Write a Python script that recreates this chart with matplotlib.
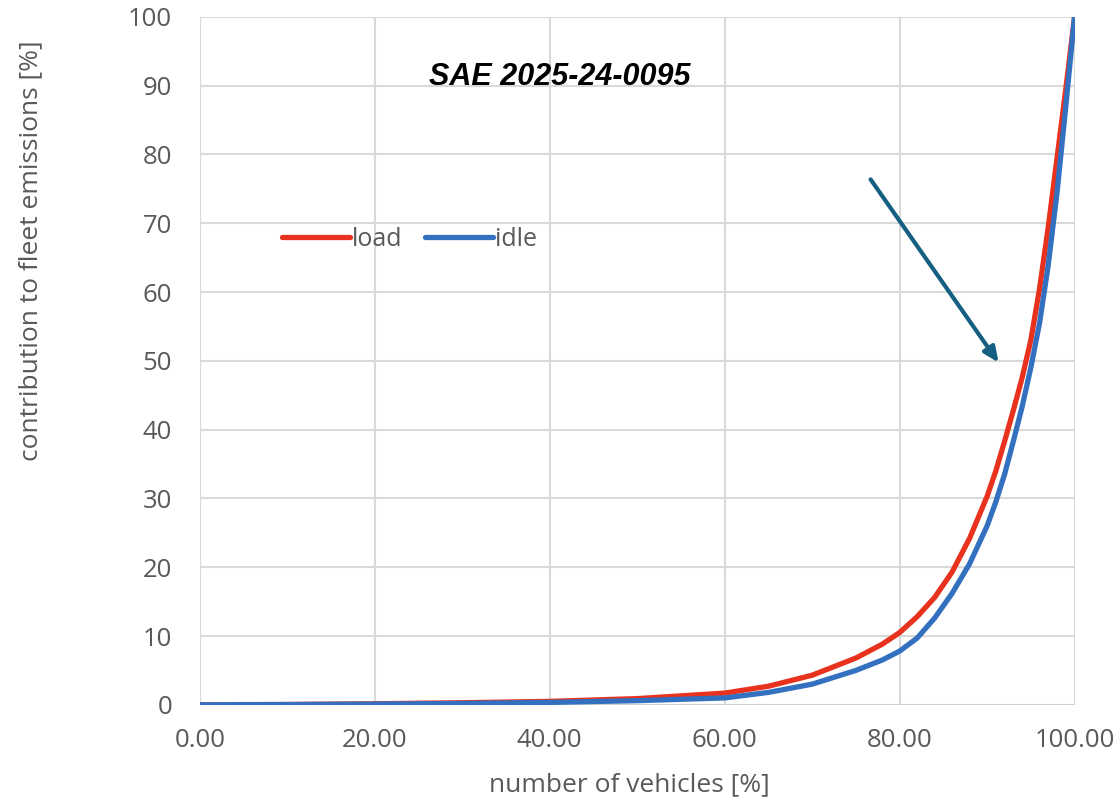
import numpy as np
import matplotlib.pyplot as plt

# share of vehicles [%] and their cumulative contribution to fleet emissions [%]
vehicles = [0, 10, 20, 30, 40, 50, 60, 65, 70, 75, 78, 80, 82, 84, 86, 88, 90, 91, 92, 93, 94, 95, 96, 97, 98, 99, 100]
load = [0, 0.05, 0.15, 0.3, 0.5, 0.9, 1.7, 2.7, 4.3, 6.8, 8.8, 10.5, 12.8, 15.6, 19.3, 24.2, 30.3, 34, 38.3, 42.8, 47.5, 53, 60.5, 69.5, 79.5, 89.5, 100]
idle = [0, 0.03, 0.1, 0.2, 0.35, 0.6, 1.0, 1.8, 3.0, 5.0, 6.5, 7.8, 9.7, 12.6, 16.2, 20.5, 26, 29.5, 33.5, 38.3, 43.3, 49, 55.5, 64, 74.5, 87, 100]

xticks = [0, 20, 40, 60, 80, 100]
yticks = np.arange(0, 101, 10)

plt.rcParams['font.family'] = ['Open Sans', 'DejaVu Sans']
grey = '#595959'

fig = plt.figure(figsize=(11.17, 8), dpi=100)
ax = fig.add_axes([0.179, 0.119, 0.783, 0.860])

ax.plot(vehicles, load, color='#E8321E', lw=3.8, label='load', solid_capstyle='round', zorder=3)
ax.plot(vehicles, idle, color='#3370C0', lw=3.8, label='idle', solid_capstyle='round', zorder=3)

ax.set_xlim(0, 100)
ax.set_ylim(0, 100)
ax.set_xticks(xticks)
ax.set_xticklabels(['%.2f' % x for x in xticks])
ax.set_yticks(yticks)
ax.tick_params(length=0, labelsize=18.5, colors=grey)
ax.tick_params(axis='y', pad=20)
ax.tick_params(axis='x', pad=17)
ax.grid(True, color='#D9D9D9', lw=1.5)
ax.set_axisbelow(True)
for s in ax.spines.values():
    s.set_visible(False)
ax.axhline(0, color='#D0D0D0', lw=1.5, zorder=1)

ax.set_xlabel('number of vehicles [%]', fontsize=19, color=grey, va='center')
ax.xaxis.set_label_coords(0.491, -0.116)
ax.set_ylabel('contribution to fleet emissions [%]', fontsize=19, color=grey, va='center')
ax.yaxis.set_label_coords(-0.193, 0.66)

ax.legend(loc='center left', bbox_to_anchor=(0.094, 0.676), ncol=2, frameon=False,
          fontsize=18, labelcolor=grey, handlelength=2.7, handletextpad=0.1,
          columnspacing=0.9, borderpad=0, borderaxespad=0)

ax.text(0.411, 0.913, 'SAE 2025-24-0095', transform=ax.transAxes, ha='center', va='center',
        fontsize=22, fontweight='bold', fontstyle='italic', family='Liberation Sans')

ax.annotate('', xy=(91.5, 49.4), xytext=(76.5, 76.7),
            arrowprops=dict(arrowstyle='-|>,head_length=0.9,head_width=0.4',
                            color='#155F82', lw=3))

fig.savefig('out.png', dpi=100)
